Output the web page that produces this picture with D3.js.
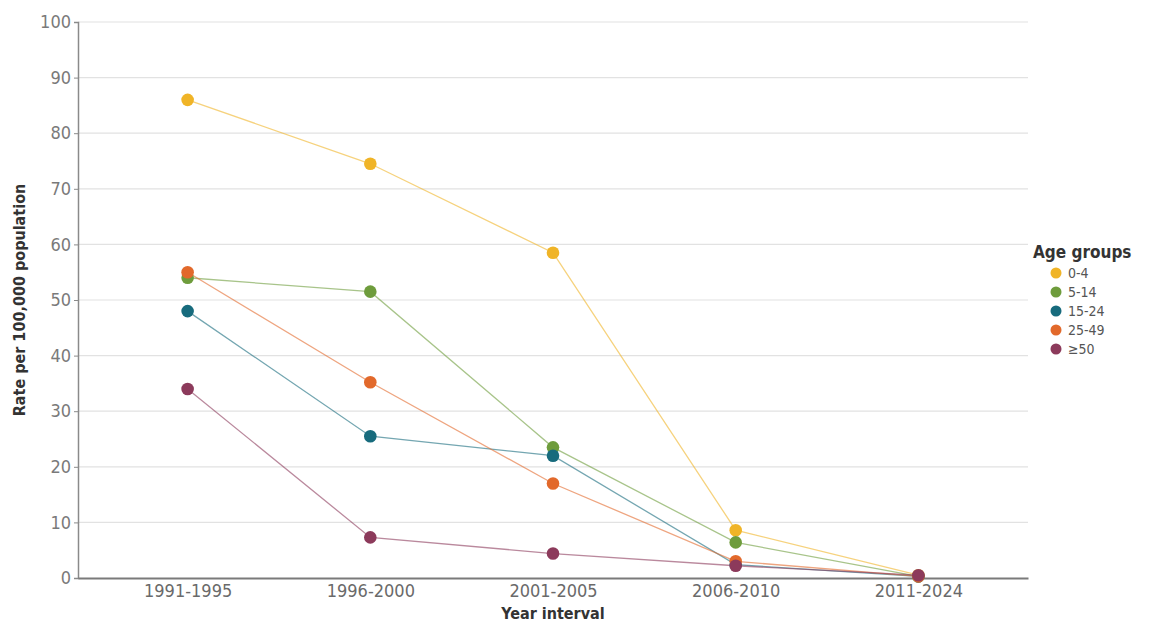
<!DOCTYPE html>
<html><head><meta charset="utf-8">
<script src="https://cdn.jsdelivr.net/npm/d3@7"></script>
<style>body{margin:0;background:#fff;} svg{display:block;}</style>
</head><body>
<svg id="c" width="1156" height="624"></svg>
<script>
const categories = ["1991-1995","1996-2000","2001-2005","2006-2010","2011-2024"];
const groups = ["0-4","5-14","15-24","25-49","≥50"];
const colors = ["#f0b427","#6e9c3c","#176b7d","#e2692b","#8c3a5b"];
const v0_4   = [86, 74.5, 58.5, 8.6, 0.5];
const v5_14  = [54, 51.5, 23.5, 6.4, 0.3];
const v15_24 = [48, 25.5, 22, 2.4, 0.3];
const v25_49 = [55, 35.2, 17, 3, 0.3];
const v50    = [34, 7.3, 4.4, 2.2, 0.5];
const yTicks = [0,10,20,30,40,50,60,70,80,90,100];

const series = [v0_4, v5_14, v15_24, v25_49, v50];
const svg = d3.select("#c");
const L = 78, R = 1028, T = 22, B = 578;
const x = d3.scalePoint().domain(categories).range([L, R]).padding(0.6);
const y = d3.scaleLinear().domain([0,100]).range([B, T]);
const font = "'Liberation Sans Narrow','DejaVu Sans Condensed','Liberation Sans',sans-serif";

// gridlines
svg.append("g").selectAll("line").data(yTicks.filter(d=>d>0)).join("line")
  .attr("x1", L).attr("x2", R).attr("y1", d=>y(d)).attr("y2", d=>y(d))
  .attr("stroke", "#e2e2e2").attr("stroke-width", 1.2);

// y axis
const ya = svg.append("g").attr("transform", `translate(${L},0)`)
  .call(d3.axisLeft(y).tickValues(yTicks).tickSize(4).tickPadding(3));
ya.select(".domain").attr("stroke", "#8a8a8a").attr("stroke-width", 1.5);
ya.selectAll(".tick line").attr("stroke", "#8a8a8a");
ya.selectAll("text").attr("fill", "#7a7a7a").style("font-family", font).style("font-size", "18px");

// x axis
const xa = svg.append("g").attr("transform", `translate(0,${B})`)
  .call(d3.axisBottom(x).tickSize(0).tickPadding(6));
xa.select(".domain").attr("stroke", "#7a7a7a").attr("stroke-width", 2);
xa.selectAll("text").attr("fill", "#6a6a6a").style("font-family", font).style("font-size", "18px");

// lines
const line = d3.line().x((d,i)=>x(categories[i])).y(d=>y(d));
series.forEach((s, k) => {
  svg.append("path").datum(s).attr("d", line).attr("fill", "none")
    .attr("stroke", colors[k]).attr("stroke-opacity", 0.6).attr("stroke-width", 1.3);
});
series.forEach((s, k) => {
  svg.append("g").selectAll("circle").data(s).join("circle")
    .attr("cx", (d,i)=>x(categories[i])).attr("cy", d=>y(d)).attr("r", 6.3)
    .attr("fill", colors[k]);
});

// axis titles
svg.append("text").attr("x", x("2001-2005")).attr("y", 619).attr("text-anchor", "middle")
  .style("font-family", font).style("font-size", "16px").style("font-weight", "bold").attr("fill", "#333")
  .text("Year interval");
svg.append("text").attr("transform", `translate(25,${(T+B)/2}) rotate(-90)`).attr("text-anchor", "middle")
  .style("font-family", font).style("font-size", "16px").style("font-weight", "bold").attr("fill", "#333")
  .text("Rate per 100,000 population");

// legend
const lg = svg.append("g").attr("transform", "translate(1033,0)");
lg.append("text").attr("x", 0).attr("y", 258).style("font-family", font).style("font-size", "17px")
  .style("font-weight", "bold").attr("fill", "#333").text("Age groups");
groups.forEach((g, k) => {
  const yy = 273 + k * 19;
  lg.append("circle").attr("cx", 23).attr("cy", yy).attr("r", 5.5).attr("fill", colors[k]);
  lg.append("text").attr("x", 35).attr("y", yy + 5).style("font-family", font).style("font-size", "14px")
    .attr("fill", "#555").text(g);
});
</script>
</body></html>
